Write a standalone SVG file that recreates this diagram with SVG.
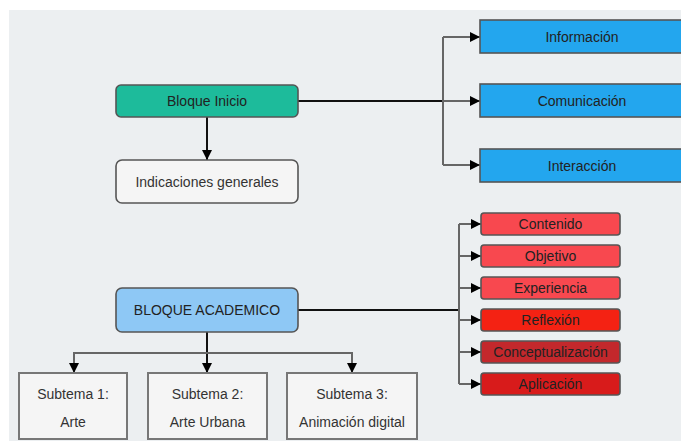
<svg xmlns="http://www.w3.org/2000/svg" width="681" height="441" viewBox="0 0 681 441">
<style>
text{font-family:"Liberation Sans",Arial,sans-serif;font-size:14px;text-anchor:middle;dominant-baseline:central;fill:#222}
.main{stroke:#111;stroke-width:2;fill:none}
.br{stroke:#666;stroke-width:2;fill:none}
.box{stroke:#555;stroke-width:1.6}
</style>
<defs>
<marker id="ah" viewBox="0 0 10 10" refX="10" refY="5" markerWidth="10" markerHeight="10" markerUnits="userSpaceOnUse" orient="auto">
<path d="M0,0 L10,5 L0,10 z" fill="#000"/>
</marker>
</defs>
<rect x="0" y="0" width="681" height="441" fill="#fff"/>
<rect x="9" y="10" width="672" height="431" fill="#eceff1"/>
<g id="connectors">
<path class="main" d="M207,117 V160" marker-end="url(#ah)"/>
<path class="main" d="M298,101 H443"/>
<path class="br" d="M443,37 V165"/>
<path class="br" d="M443,37 H480" marker-end="url(#ah)"/>
<path class="br" d="M443,101 H480" marker-end="url(#ah)"/>
<path class="br" d="M443,165 H480" marker-end="url(#ah)"/>
<path class="main" d="M298,310 H459"/>
<path class="br" d="M459,224 V384"/>
<path class="br" d="M459,224 H481" marker-end="url(#ah)"/>
<path class="br" d="M459,256 H481" marker-end="url(#ah)"/>
<path class="br" d="M459,288 H481" marker-end="url(#ah)"/>
<path class="br" d="M459,320 H481" marker-end="url(#ah)"/>
<path class="br" d="M459,352 H481" marker-end="url(#ah)"/>
<path class="br" d="M459,384 H481" marker-end="url(#ah)"/>
<path class="main" d="M207,332 V373" marker-end="url(#ah)"/>
<path class="br" d="M74,373 V353 H352 V373" marker-end="url(#ah)"/>
<path class="br" d="M74,353 V373" marker-end="url(#ah)"/>
</g>
<g id="bloque-inicio"><rect class="box" x="116" y="85" width="182" height="32" rx="5" fill="#1dbb9b" stroke="#333"/><text x="207" y="101">Bloque Inicio</text></g>
<g id="indicaciones"><rect class="box" x="116" y="160" width="182" height="43" rx="6" fill="#f5f5f5"/><text x="207" y="181.5" style="fill:#333">Indicaciones generales</text></g>
<g id="informacion"><rect class="box" x="480" y="20" width="206" height="33" fill="#23a6ee"/><text x="582" y="36.5">Información</text></g>
<g id="comunicacion"><rect class="box" x="480" y="84" width="206" height="33" fill="#23a6ee"/><text x="582" y="100.5">Comunicación</text></g>
<g id="interaccion"><rect class="box" x="480" y="149" width="206" height="33" fill="#23a6ee"/><text x="582" y="165.5">Interacción</text></g>
<g id="bloque-academico"><rect class="box" x="116" y="288" width="182" height="44" rx="6" fill="#8ec8f5" stroke="#444"/><text x="207" y="310">BLOQUE ACADEMICO</text></g>
<g id="contenido"><rect class="box" x="481" y="213" width="139" height="22" rx="3" fill="#f8484f" stroke="#444"/><text x="550.5" y="224">Contenido</text></g>
<g id="objetivo"><rect class="box" x="481" y="245" width="139" height="22" rx="3" fill="#f8484f" stroke="#444"/><text x="550.5" y="256">Objetivo</text></g>
<g id="experiencia"><rect class="box" x="481" y="277" width="139" height="22" rx="3" fill="#f8484f" stroke="#444"/><text x="550.5" y="288">Experiencia</text></g>
<g id="reflexion"><rect class="box" x="481" y="309" width="139" height="22" rx="3" fill="#f42213" stroke="#444"/><text x="550.5" y="320">Reflexión</text></g>
<g id="conceptualizacion"><rect class="box" x="481" y="341" width="139" height="22" rx="3" fill="#c3282c" stroke="#444"/><text x="550.5" y="352">Conceptualización</text></g>
<g id="aplicacion"><rect class="box" x="481" y="373" width="139" height="22" rx="3" fill="#d81b1b" stroke="#444"/><text x="550.5" y="384">Aplicación</text></g>
<g id="subtema1"><rect x="19" y="373" width="108" height="66" fill="#f5f5f5" stroke="#777" stroke-width="2"/><text x="73" y="394" style="fill:#333">Subtema 1:</text><text x="73" y="422" style="fill:#333">Arte</text></g>
<g id="subtema2"><rect x="148" y="373" width="119" height="66" fill="#f5f5f5" stroke="#777" stroke-width="2"/><text x="207.5" y="394" style="fill:#333">Subtema 2:</text><text x="207.5" y="422" style="fill:#333">Arte Urbana</text></g>
<g id="subtema3"><rect x="287" y="373" width="130" height="66" fill="#f5f5f5" stroke="#777" stroke-width="2"/><text x="352" y="394" style="fill:#333">Subtema 3:</text><text x="352" y="422" style="fill:#333">Animación digital</text></g>
</svg>
